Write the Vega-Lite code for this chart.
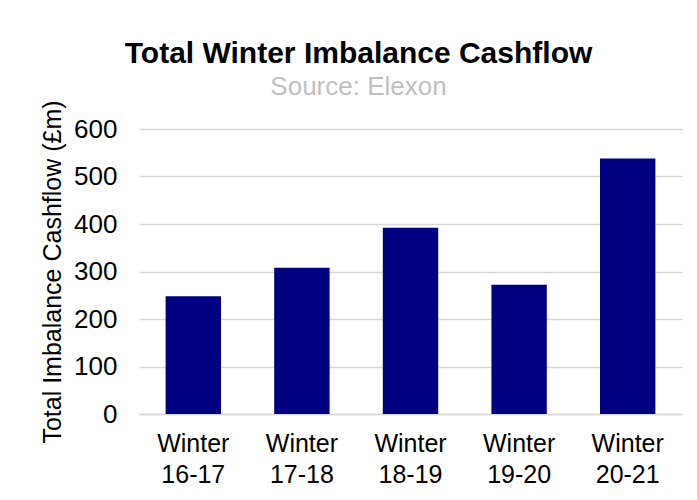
{
  "$schema": "https://vega.github.io/schema/vega-lite/v6.json",
  "autosize": "none",
  "width": 543,
  "height": 285,
  "padding": {"left": 139, "top": 129, "right": 15, "bottom": 86},
  "background": "white",
  "config": {
    "font": "Liberation Sans",
    "view": {"stroke": null}
  },
  "title": {
    "text": "Total Winter Imbalance Cashflow",
    "subtitle": "Source: Elexon",
    "anchor": "middle",
    "dx": -52,
    "offset": 0,
    "fontSize": 30,
    "fontWeight": "bold",
    "color": "#000000",
    "subtitleFontSize": 26,
    "subtitleColor": "#bfbfbf",
    "subtitlePadding": 5,
    "font": "Liberation Sans",
    "subtitleFont": "Liberation Sans"
  },
  "data": {
    "values": [
      {"season": "Winter 16-17", "cashflow": 248},
      {"season": "Winter 17-18", "cashflow": 308},
      {"season": "Winter 18-19", "cashflow": 392},
      {"season": "Winter 19-20", "cashflow": 272},
      {"season": "Winter 20-21", "cashflow": 538}
    ]
  },
  "mark": {"type": "bar", "color": "#000080"},
  "encoding": {
    "x": {
      "field": "season",
      "type": "nominal",
      "sort": null,
      "scale": {"paddingInner": 0.49, "paddingOuter": 0.245},
      "axis": {
        "title": null,
        "labelAngle": 0,
        "labelExpr": "split(datum.label, ' ')",
        "labelLineHeight": 31,
        "labelFontSize": 25,
        "labelColor": "#000000",
        "labelPadding": 17,
        "labelBaseline": "top",
        "ticks": false,
        "domainColor": "#d9d9d9",
        "domainWidth": 1.5
      }
    },
    "y": {
      "field": "cashflow",
      "type": "quantitative",
      "scale": {"domain": [0, 600]},
      "axis": {
        "title": "Total Imbalance Cashflow (£m)",
        "titleFontSize": 25,
        "titleFontWeight": "normal",
        "titleColor": "#000000",
        "titlePadding": 8,
        "values": [0, 100, 200, 300, 400, 500, 600],
        "labelFontSize": 26,
        "labelColor": "#000000",
        "labelPadding": 22,
        "ticks": false,
        "domain": false,
        "gridColor": "#d9d9d9",
        "gridWidth": 1.5
      }
    }
  }
}
